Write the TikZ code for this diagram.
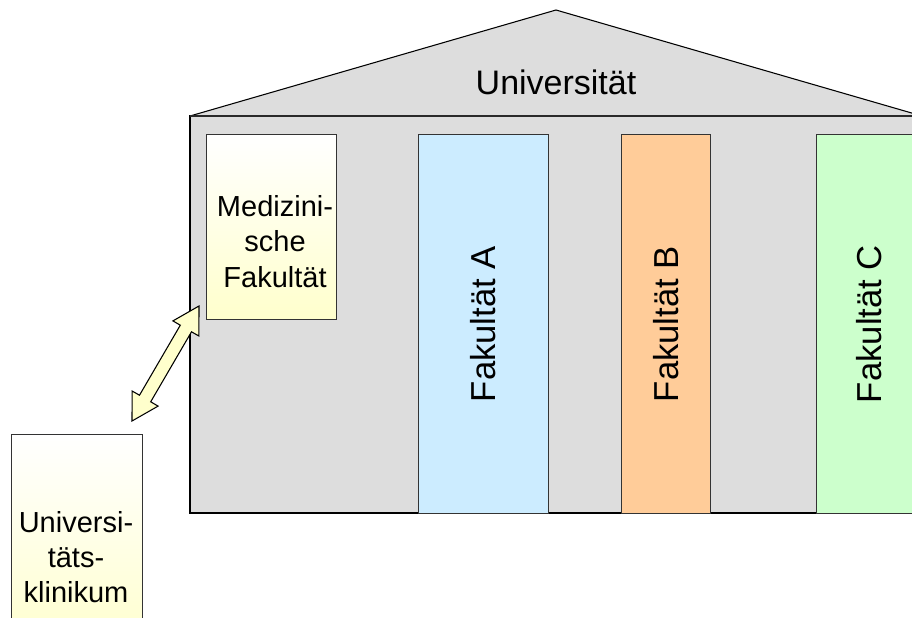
\documentclass[tikz,border=0pt]{standalone}
\usepackage{fontspec}
\setmainfont{Liberation Sans}
\definecolor{bgray}{HTML}{DDDDDD}
\definecolor{facA}{HTML}{CCECFF}
\definecolor{facB}{HTML}{FFCC99}
\definecolor{facC}{HTML}{CCFFCC}
\definecolor{lyel}{HTML}{FFFFCC}
\definecolor{edge}{HTML}{333333}
\begin{document}
\begin{tikzpicture}[x=0.75pt,y=-0.75pt,
  facbox/.style={draw=edge, line width=0.8pt, inner sep=0pt, anchor=north west},
  medbox/.style={facbox, top color=white, bottom color=lyel, shading angle=0},
  bigtxt/.style={font=\fontsize{25.5}{30}\selectfont},
  vtxt/.style={font=\fontsize{26}{31}\selectfont, rotate=90},
  smtxt/.style={font=\fontsize{21.75}{26.4}\selectfont, align=center}]
\useasboundingbox (0,0) rectangle (912,617);
\clip (0,0) rectangle (912,617);
% building
\draw[fill=bgray, draw=black, line width=0.8pt] (190,116) rectangle (960,513);
\draw[black, line width=1.2pt] (190,513) -- (960,513);
% roof
\fill[bgray] (190,116) -- (556,10) -- (922,116) -- cycle;
\draw[black, line width=0.8pt] (190,116) -- (556,10) -- (922,116);
\draw[edge!80!black, line width=1.6pt] (190,116) -- (922,116);
\node[bigtxt] (uni) at (556,82) {Universität};
% faculties
\node[medbox, minimum width=97.5pt, minimum height=138.75pt] (med) at (206,134) {};
\node[smtxt] (medt) at (275,241.5) {Medizini-\\sche\\Fakultät};
\node[facbox, fill=facA, minimum width=97.5pt, minimum height=284.25pt] (fa) at (418,134) {};
\node[vtxt] (fat) at (fa.center) {Fakultät A};
\node[facbox, fill=facB, minimum width=66.75pt, minimum height=284.25pt] (fb) at (621,134) {};
\node[vtxt] (fbt) at (fb.center) {Fakultät B};
\node[facbox, fill=facC, minimum width=79.5pt, minimum height=284.25pt] (fc) at (816,134) {};
\node[vtxt] (fct) at (fc.center) {Fakultät C};
% clinic
\node[medbox, minimum width=98.25pt, minimum height=165pt] (kl) at (11,434) {};
\node[smtxt] (klt) at (76,557) {Universi-\\täts-\\klinikum};
% double block arrow
\coordinate (t1) at (199,306);
\coordinate (t2) at (132,421);
\filldraw[fill=lyel, draw=black, line width=0.8pt, line join=miter]
  (t1) -- (198.9,336.0) -- (191.5,331.8) -- (150.7,401.8) -- (158.1,406.1)
  -- (t2) -- (132.1,391.0) -- (139.5,395.2) -- (180.3,325.2) -- (172.9,320.9) -- cycle;
\end{tikzpicture}
\end{document}
